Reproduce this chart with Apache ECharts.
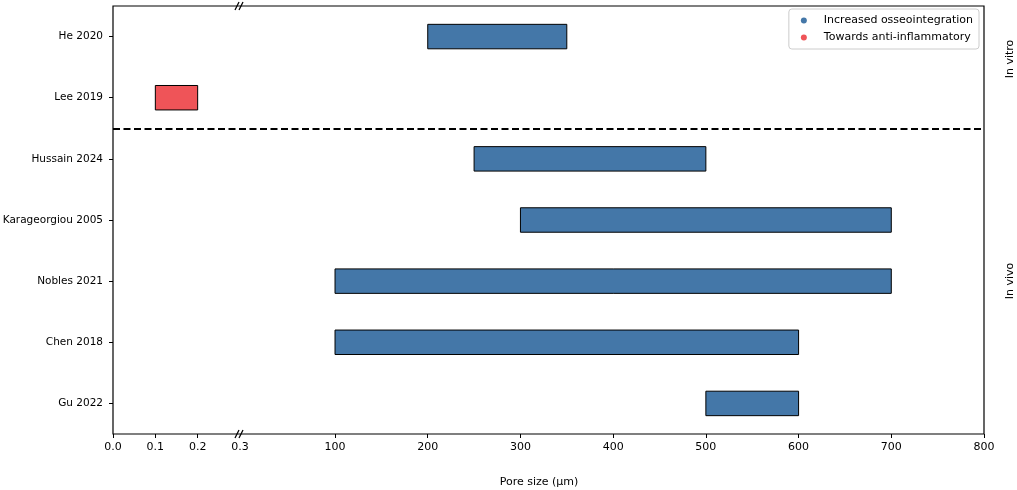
<!DOCTYPE html>
<html>
<head>
<meta charset="utf-8">
<script src="https://cdn.jsdelivr.net/npm/echarts@6/dist/echarts.min.js"></script>
<style>
  html, body { margin: 0; padding: 0; background: #fff; }
  #chart { width: 1017px; height: 490px; }
</style>
</head>
<body>
<div id="chart"></div>
<script>
// study rows, top to bottom
const studies = ['He 2020', 'Lee 2019', 'Hussain 2024', 'Karageorgiou 2005', 'Nobles 2021', 'Chen 2018', 'Gu 2022'];
const poreMin = [200, 0.1, 250, 300, 100, 100, 500];
const poreMax = [350, 0.2, 500, 700, 700, 600, 600];
const effect = ['osseo', 'anti', 'osseo', 'osseo', 'osseo', 'osseo', 'osseo'];

const smallTicks = [0, 0.1, 0.2, 0.3];
const largeTicks = [100, 200, 300, 400, 500, 600, 700, 800];

const seriesNames = { osseo: 'Increased osseointegration', anti: 'Towards anti-inflammatory' };
const seriesColors = { osseo: '#4477a8', anti: '#ef5458' };

// layout
const FONT = 'DejaVu Sans';
const L = 113, T = 6, R = 984, B = 434;
const BREAK_X = 240;
const H = B - T;
const rowIdx = studies.map((s, i) => i);

function rows(key, small) {
  return rowIdx
    .filter(i => effect[i] === key && (poreMax[i] <= 0.3) === small)
    .map(i => [poreMin[i], poreMax[i], i]);
}

function renderBar(params, api) {
  const p0 = api.coord([api.value(0), api.value(2)]);
  const p1 = api.coord([api.value(1), api.value(2)]);
  const h = api.size([0, 1])[1] * 0.4;
  return {
    type: 'rect',
    shape: { x: p0[0], y: p0[1] - h / 2, width: p1[0] - p0[0], height: h },
    style: { fill: api.visual('color'), stroke: '#000', lineWidth: 1 }
  };
}

const yBase = { type: 'value', min: -0.5, max: 6.5, inverse: true, splitLine: { show: false } };

function breakMarks(y) {
  return [-2, 2].map(d => ({
    type: 'line',
    shape: { x1: BREAK_X - 1 + d - 2, y1: y + 4, x2: BREAK_X - 1 + d + 2, y2: y - 4 },
    style: { stroke: '#000', lineWidth: 1.2 },
    z: 100
  }));
}

const chart = echarts.init(document.getElementById('chart'));
chart.setOption({
  animation: false,
  textStyle: { fontFamily: FONT },
  grid: [
    { left: L, top: T, width: BREAK_X - L, height: H, outerBoundsMode: 'none', containLabel: false },
    { left: BREAK_X, top: T, width: R - BREAK_X, height: H, outerBoundsMode: 'none', containLabel: false },
    { left: L, top: T, width: R - L, height: H, outerBoundsMode: 'none', containLabel: false,
      show: true, borderColor: '#000', borderWidth: 1.2, backgroundColor: 'transparent' }
  ],
  xAxis: [
    {
      gridIndex: 0, type: 'value', min: 0, max: 0.3, position: 'bottom',
      axisLine: { show: false, onZero: false },
      axisTick: { show: true, length: 4, lineStyle: { color: '#000' }, customValues: [0, 0.1, 0.2] },
      axisLabel: { customValues: smallTicks, margin: 8, fontSize: 11, color: '#000', fontFamily: FONT, formatter: v => v.toFixed(1) },
      splitLine: { show: false }
    },
    {
      gridIndex: 1, type: 'value', min: -2.5, max: 800, position: 'bottom',
      axisLine: { show: false, onZero: false },
      axisTick: { show: true, length: 4, lineStyle: { color: '#000' }, customValues: largeTicks },
      axisLabel: { customValues: largeTicks, margin: 8, fontSize: 11, color: '#000', fontFamily: FONT },
      splitLine: { show: false }
    },
    { gridIndex: 2, type: 'value', min: 0, max: 1, show: false }
  ],
  yAxis: [
    Object.assign({}, yBase, {
      gridIndex: 0, position: 'left',
      axisLine: { show: false, onZero: false },
      axisTick: { show: true, length: 4, lineStyle: { color: '#000' }, customValues: rowIdx },
      axisLabel: { customValues: rowIdx, margin: 10, fontSize: 10.5, color: '#000', fontFamily: FONT, formatter: v => studies[v] }
    }),
    Object.assign({}, yBase, { gridIndex: 1, show: false }),
    Object.assign({}, yBase, { gridIndex: 2, show: false })
  ],
  legend: {
    orient: 'vertical',
    right: 1017 - 979, top: 9,
    padding: [6, 6, 6, 12],
    itemWidth: 6, itemHeight: 6, itemGap: 6,
    icon: 'circle',
    borderColor: '#cccccc', borderWidth: 1, borderRadius: 3,
    backgroundColor: 'rgba(255,255,255,0.8)',
    textStyle: { fontSize: 11, color: '#000', fontFamily: FONT, padding: [0, 0, 0, 12] },
    data: [seriesNames.osseo, seriesNames.anti]
  },
  series: [
    {
      type: 'custom', name: seriesNames.osseo, xAxisIndex: 1, yAxisIndex: 1,
      itemStyle: { color: seriesColors.osseo },
      encode: { x: [0, 1], y: 2 },
      renderItem: renderBar, data: rows('osseo', false)
    },
    {
      type: 'custom', name: seriesNames.anti, xAxisIndex: 0, yAxisIndex: 0,
      itemStyle: { color: seriesColors.anti },
      encode: { x: [0, 1], y: 2 },
      renderItem: renderBar, data: rows('anti', true)
    },
    {
      type: 'line', name: 'divider', xAxisIndex: 2, yAxisIndex: 2, data: [],
      markLine: {
        silent: true, symbol: 'none', label: { show: false },
        lineStyle: { color: '#000', type: [7, 3.5], width: 2 },
        data: [{ yAxis: 1.5 }]
      }
    }
  ],
  graphic: [
    ...breakMarks(T),
    ...breakMarks(B),
    { type: 'text', x: 539, y: 482, style: { text: 'Pore size (µm)', font: '11px "DejaVu Sans"', fill: '#000', align: 'center', verticalAlign: 'middle' } },
    { type: 'text', x: 1010, y: 59, rotation: Math.PI / 2, style: { text: 'In vitro', font: '11px "DejaVu Sans"', fill: '#000', align: 'center', verticalAlign: 'middle' } },
    { type: 'text', x: 1010, y: 281, rotation: Math.PI / 2, style: { text: 'In vivo', font: '11px "DejaVu Sans"', fill: '#000', align: 'center', verticalAlign: 'middle' } }
  ]
});
</script>
</body>
</html>
